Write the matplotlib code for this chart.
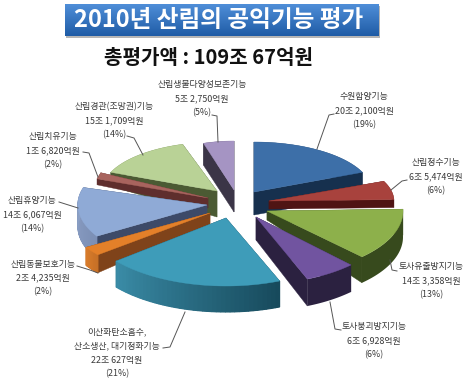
import numpy as np
import matplotlib
matplotlib.use("Agg")
import matplotlib.pyplot as plt
from matplotlib.patches import Polygon, Rectangle
from matplotlib.colors import to_rgb

FONT = ["Noto Sans CJK KR", "DejaVu Sans"]
plt.rcParams["font.family"] = FONT

# ---- data -------------------------------------------------------------
title = "2010년 산림의 공익기능 평가"
subtitle = "총평가액 : 109조 67억원"
categories = [
    ["수원함양기능"], ["산림정수기능"], ["토사유출방지기능"], ["토사붕괴방지기능"],
    ["이산화탄소흡수,", "산소생산, 대기정화기능"], ["산림동물보호기능"], ["산림휴양기능"],
    ["산림치유기능"], ["산림경관(조망권)기능"], ["산림생물다양성보존기능"],
]
amount_jo = [20, 6, 14, 6, 22, 2, 14, 1, 15, 5]
amount_eok = [2100, 5474, 3358, 6928, 627, 4235, 6067, 6820, 1709, 2750]
percents = [19, 6, 13, 6, 21, 2, 14, 2, 14, 5]

# ---- styles ------------------------------------------------------------
apex = [(254, 192), (269, 201), (267, 211), (256, 217), (226, 218),
        (210, 213), (207, 205), (208, 198), (217, 191), (234, 190)]
radius_x = [118, 125, 136, 136, 142, 145, 129, 116, 115, 102]
radius_y = [50, 50, 64, 67, 68, 66, 60, 66, 49, 49]
depth_in = [23, 8, 9, 23, 22, 11, 12, 10, 26, 22]
depth_out = [23, 8, 26, 27, 26, 18, 22, 6, 14, 22]
top_col = ["#3d6fa8", "#a8423d", "#8db04b", "#7154a0", "#3e9cb9",
           "#e48029", "#8faad6", "#a8645e", "#b9d296", "#a594c3"]
radial_col = ["#16304e", "#4f1414", "#374a1d", "#2b2140", "#174a5c",
              "#7f431a", "#3d4a68", "#5f2e2d", "#4b5a33", "#3b3547"]
rim_a = ["#16304e", "#4f1414", "#374a1d", "#2b2140", "#174a5c",
         "#c56f26", "#7c8fb5", "#5f2e2d", "#4b5a33", "#3b3547"]
rim_b = ["#16304e", "#4f1414", "#374a1d", "#2b2140", "#3a8ba6",
         "#d87b2a", "#8ea3c8", "#5f2e2d", "#4b5a33", "#3b3547"]
draw_order = [9, 8, 0, 7, 6, 1, 5, 2, 3, 4]

label_pos = [(364, 97), (436, 163), (431, 267), (374, 327), (117, 332),
             (43, 264), (32, 201), (53, 137), (114, 107), (202, 85)]
leaders = [
    [(334, 114), (329, 115), (317, 149)],
    [(407, 180), (402, 181), (391, 190)],
    [(390, 260), (392, 270), (397, 271)],
    [(330, 302), (335, 329), (341, 330)],
    [(163, 348), (170, 347), (185, 312)],
    [(77, 266), (90, 270), (98, 273)],
    [(59, 202), (78, 208)],
    [(83, 152), (89, 153), (98, 177)],
    [(127, 136), (134, 138), (143, 155)],
    [(212, 115), (217, 116), (218, 142)],
]
LINE_GAP = 14
TEXT_COL = "#3a3a3a"

# ---- canvas ------------------------------------------------------------
fig = plt.figure(figsize=(4.68, 3.83), dpi=100, facecolor="white")
ax = fig.add_axes([0, 0, 1, 1])
ax.set_axis_off()

# title banner
ax.add_patch(Rectangle((66, 6), 314, 32, fc="#b5b5b5", ec="none", zorder=1))
grad = np.linspace(0, 1, 64)[:, None, None]
c0, c1 = np.array(to_rgb("#4f8ed8")), np.array(to_rgb("#1f5ca6"))
ax.imshow(c0 * (1 - grad) + c1 * grad, extent=(65, 379, 36, 4), aspect="auto", zorder=2)
ax.set_xlim(0, 468)
ax.set_ylim(383, 0)
ax.text(219, 20, title, color="white", fontsize=17, fontweight="bold",
        ha="center", va="center", zorder=3)
ax.text(208, 58, subtitle, color="#111111", fontsize=14.5, fontweight="bold",
        ha="center", va="center", zorder=3)

# pie wedges, angles derived from the values
amounts = np.array(amount_jo) * 10000 + np.array(amount_eok)
edges = np.concatenate([[0], np.cumsum(amounts)]) / amounts.sum() * 2 * np.pi


def blend(a, b, f):
    return tuple(np.array(to_rgb(a)) * (1 - f) + np.array(to_rgb(b)) * f)


z = 10
for i in draw_order:
    a0, a1 = edges[i], edges[i + 1]
    ax0, ay0 = apex[i]
    t = np.linspace(a0, a1, 40)
    xs = ax0 + radius_x[i] * np.sin(t)
    ys = ay0 - radius_y[i] * np.cos(t)
    # radial faces
    for px, py in ((xs[0], ys[0]), (xs[-1], ys[-1])):
        ax.add_patch(Polygon([(ax0, ay0), (px, py), (px, py + depth_out[i]), (ax0, ay0 + depth_in[i])],
                             fc=radial_col[i], ec=radial_col[i], lw=0.3, zorder=z))
    # rim: one solid base, then shaded segments that overlap their neighbours
    base = np.vstack([np.column_stack([xs, ys]), np.column_stack([xs, ys + depth_out[i]])[::-1]])
    ax.add_patch(Polygon(base, fc=blend(rim_a[i], rim_b[i], 0.5), ec="none", zorder=z))
    if rim_a[i] != rim_b[i]:
        for k in range(len(t) - 1):
            col = blend(rim_a[i], rim_b[i], k / (len(t) - 2))
            ax.add_patch(Polygon([(xs[k], ys[k]), (xs[k + 1], ys[k + 1]),
                                  (xs[k + 1], ys[k + 1] + depth_out[i]), (xs[k], ys[k] + depth_out[i])],
                                 fc=col, ec=col, lw=0.8, zorder=z))
    # top
    ax.add_patch(Polygon(np.vstack([[(ax0, ay0)], np.column_stack([xs, ys])]),
                         fc=top_col[i], ec=top_col[i], lw=0.3, zorder=z + 1))
    z += 2

# labels and leader lines
for i in range(len(categories)):
    lines = categories[i] + [f"{amount_jo[i]}조 {amount_eok[i]:,}억원", f"({percents[i]}%)"]
    lx, ly = label_pos[i]
    for j, s in enumerate(lines):
        ax.text(lx, ly + j * LINE_GAP, s, fontsize=6.4, color=TEXT_COL, fontweight="medium",
                ha="center", va="center", zorder=60)
    pts = np.array(leaders[i])
    ax.plot(pts[:, 0], pts[:, 1], color="#555555", lw=0.7, zorder=59)

fig.savefig("out.png", dpi=100, facecolor="white")
